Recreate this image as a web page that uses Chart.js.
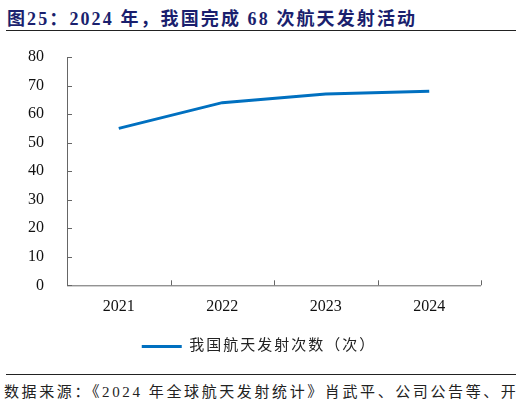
<!DOCTYPE html>
<html><head><meta charset="utf-8">
<script src="https://cdn.jsdelivr.net/npm/chart.js@4.4.1/dist/chart.umd.min.js"></script>
<style>
html,body{margin:0;padding:0;background:#fff;width:522px;height:405px;overflow:hidden;}
#title{position:absolute;left:7px;top:4px;font:bold 18px "Liberation Serif","Noto Sans CJK SC",serif;letter-spacing:2.1px;color:#1a1f6e;white-space:nowrap;}
#tline{position:absolute;left:6px;top:30px;width:510px;height:0;border-top:1.5px solid #222;}
#fline{position:absolute;left:6px;top:374px;width:510px;height:0;border-top:1.5px solid #222;}
#foot{position:absolute;left:4px;top:380px;font:15px "Liberation Serif","Noto Sans CJK SC",serif;letter-spacing:2.6px;color:#222;white-space:nowrap;}
#wrap{position:absolute;left:0;top:0;width:522px;height:364px;}
</style></head><body>
<div id="title">图25：2024 年，我国完成 68 次航天发射活动</div>
<div id="tline"></div>
<div id="wrap"><canvas id="c"></canvas></div>
<div id="fline"></div>
<div id="foot">数据来源：《2024 年全球航天发射统计》肖武平、公司公告等、开</div>
<script>
const categories = ["2021","2022","2023","2024"];
const launches = [55,64,67,68];
const seriesName = "我国航天发射次数（次）";
const yTicks = [0,10,20,30,40,50,60,70,80];

const inwardTicks = {
  id:'inwardTicks',
  afterDraw(chart){
    const ctx = chart.ctx, x = chart.scales.x, y = chart.scales.y;
    ctx.save();
    ctx.strokeStyle = '#666'; ctx.lineWidth = 1;
    ctx.beginPath();
    ctx.moveTo(x.left+0.5, y.top); ctx.lineTo(x.left+0.5, y.bottom);
    ctx.moveTo(x.left, y.bottom+0.5); ctx.lineTo(x.right, y.bottom+0.5);
    yTicks.forEach(v=>{ const py = Math.round(y.getPixelForValue(v))+0.5; ctx.moveTo(x.left, py); ctx.lineTo(x.left+5, py); });
    for(let i=0;i<=categories.length;i++){
      const px = Math.round(x.getPixelForValue(i-0.5))+0.5;
      ctx.moveTo(px, y.bottom); ctx.lineTo(px, y.bottom-5);
    }
    ctx.stroke();
    ctx.restore();
  }
};

const chart = new Chart(document.getElementById('c'), {
  type:'line',
  data:{labels:categories, datasets:[{label:seriesName, data:launches, borderColor:'#0070C0', backgroundColor:'#0070C0', borderWidth:3, pointRadius:0, tension:0}]},
  options:{
    responsive:true, maintainAspectRatio:false, animation:false,
    layout:{padding:{left:0,right:41,top:57,bottom:0}},
    plugins:{
      legend:{position:'bottom', labels:{boxWidth:40, boxHeight:0, padding:18.5, color:'#222', font:{family:'"Liberation Serif","Noto Sans CJK SC"', size:15}, generateLabels(chart){const d=chart.data.datasets[0];return [{text:d.label,strokeStyle:d.borderColor,fillStyle:d.borderColor,lineWidth:3,datasetIndex:0,fontColor:'#222'}];}}},
      tooltip:{enabled:false}
    },
    scales:{
      x:{offset:true, grid:{display:false}, border:{display:false}, ticks:{color:'#111', padding:4, font:{family:'"Liberation Serif"', size:16}}},
      y:{min:0,max:80, afterFit(s){s.width=67;}, grid:{display:false}, border:{display:false}, ticks:{stepSize:10, color:'#111', padding:15, font:{family:'"Liberation Serif"', size:16}}}
    }
  },
  plugins:[inwardTicks]
});
// legend text spacing, and centre the legend on the page width
const lg = chart.legend;
['fit','draw'].forEach(fn=>{
  const orig = lg[fn].bind(lg);
  lg[fn] = function(){
    const c = chart.ctx; c.save(); c.letterSpacing='2px';
    if(fn==='draw'){ const dx = (chart.width - (lg.left + lg.right))/2 - 2; c.translate(dx,0); }
    const r = orig.apply(null, arguments); c.restore(); return r; };
});
chart.update();
</script>
</body></html>
